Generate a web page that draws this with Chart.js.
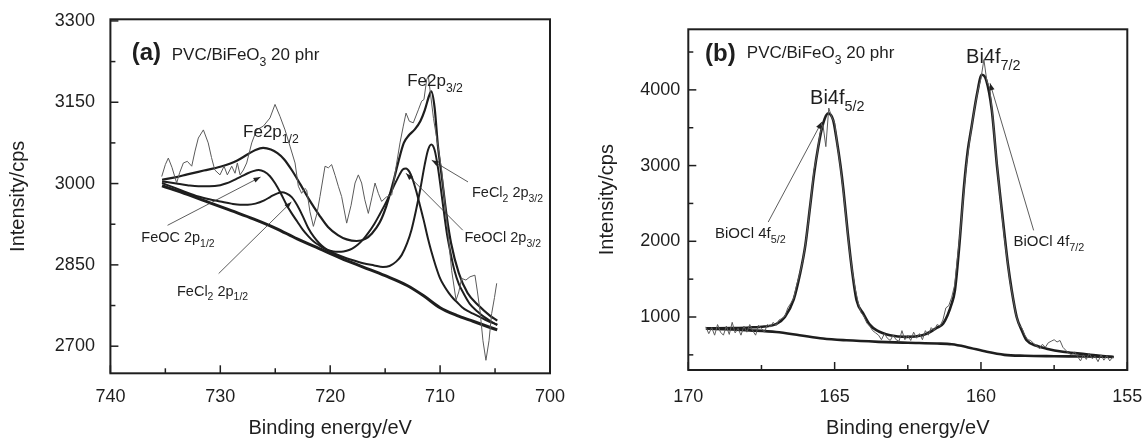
<!DOCTYPE html>
<html>
<head>
<meta charset="utf-8">
<script src="https://cdn.jsdelivr.net/npm/chart.js@4.4.1/dist/chart.umd.min.js"></script>
<style>
  body { margin: 0; background: #fff; }
  #wrap { position: relative; width: 1142px; height: 438px; }
  canvas { position: absolute; top: 0; }
  #chartA { left: 0; }
  #chartB { left: 571px; }
</style>
</head>
<body>
<div id="wrap">
  <canvas id="chartA" width="571" height="438"></canvas>
  <canvas id="chartB" width="571" height="438"></canvas>
</div>
<script>
// ---- panel (a): Fe2p ----
const rawA_E = [735.33, 735.0, 734.73, 734.4, 733.97, 733.7, 733.36, 733.0, 732.6, 732.3, 732.0, 731.54, 731.1, 730.8, 730.5, 730.03, 729.66, 729.36, 728.96, 728.66, 728.45, 728.2, 727.9, 727.6, 727.14, 726.7, 726.08, 725.48, 725.02, 724.57, 724.11, 723.66, 723.2, 722.9, 722.6, 722.3, 722.14, 721.84, 721.53, 721.2, 720.93, 720.47, 720.17, 719.87, 719.55, 719.26, 718.96, 718.5, 718.1, 717.74, 717.44, 717.14, 716.85, 716.53, 716.2, 715.92, 715.62, 715.32, 714.9, 714.4, 713.95, 713.65, 713.35, 713.1, 712.8, 712.44, 711.98, 711.68, 711.47, 711.22, 711.07, 710.92, 710.6, 710.2, 709.86, 709.56, 709.25, 708.95, 708.55, 708.3, 708.04, 707.65, 707.28, 706.83, 706.6, 706.37, 706.1, 705.83, 705.55, 705.31, 705.05, 704.85];
const rawA_I = [3013, 3035, 3047, 3030, 3001, 3020, 3038, 3041, 3032, 3060, 3084, 3099, 3075, 3048, 3025, 3016, 3032, 3016, 3032, 3019, 3038, 3016, 3025, 3038, 3075, 3099, 3106, 3121, 3146, 3124, 3099, 3069, 3038, 2995, 2982, 2991, 2988, 2948, 2921, 2945, 2976, 3032, 3029, 3035, 3015, 2995, 2976, 2927, 2960, 3001, 3016, 3001, 2970, 2945, 2975, 3001, 2982, 2967, 2975, 2979, 3038, 3075, 3106, 3130, 3115, 3112, 3136, 3152, 3155, 3192, 3198, 3173, 3120, 3070, 3025, 2964, 2902, 2840, 2785, 2800, 2825, 2822, 2828, 2831, 2800, 2766, 2710, 2674, 2710, 2760, 2790, 2816];

const envA_E = [735.3, 734, 733, 731.5, 730, 728.5, 727.5, 726.8, 726.1, 725.4, 724.8, 724.2, 723.5, 722.7, 721.9, 721, 720.2, 719.3, 718.5, 717.6, 716.8, 716.2, 715.5, 714.9, 714.3, 713.8, 713.3, 712.8, 712.3, 711.8, 711.4, 711.0, 710.8, 710.5, 710.2, 709.8, 709.4, 709.0, 708.3, 707.5, 706.5, 705.5, 704.8];
const envA_I = [3007, 3012, 3017, 3024, 3031, 3042, 3054, 3062, 3066, 3063, 3056, 3045, 3025, 2998, 2970, 2942, 2920, 2905, 2897, 2894, 2898, 2908, 2928, 2958, 3000, 3040, 3075, 3090, 3100, 3115, 3135, 3162, 3170, 3140, 3070, 3005, 2940, 2890, 2835, 2798, 2775, 2757, 2747];

// FeOC 2p1/2 + FeOCl 2p3/2 component
const feoclE = [735.3, 734, 733, 732, 731, 730, 729.5, 729, 728.5, 728, 727.5, 727, 726.5, 726, 725.5, 725, 724.5, 724, 723.5, 723, 722.5, 722, 721.5, 721, 720.5, 720, 719.5, 719, 718.5, 718, 717.5, 717, 716.5, 716, 715.5, 715, 714.5, 714, 713.7, 713.4, 713.1, 712.8, 712.5, 712.2, 711.9, 711.5, 711.1, 710.8, 710.4, 710, 709.6, 709.2, 708.8, 708.5, 708, 707.5, 707, 706.4, 706, 705.5, 704.8];
const feoclI = [3004, 3000, 2997, 2995, 2995, 2997, 3000, 3004, 3009, 3014, 3019, 3023, 3025, 3022, 3014, 3000, 2982, 2962, 2945, 2930, 2915, 2903, 2893, 2886, 2880, 2876, 2874, 2874, 2876, 2880, 2887, 2897, 2910, 2925, 2943, 2962, 2983, 3004, 3016, 3026, 3028, 3022, 3008, 2988, 2965, 2933, 2898, 2875, 2848, 2825, 2810, 2798, 2788, 2782, 2772, 2765, 2760, 2754, 2750, 2745, 2740];

// FeCl2 2p1/2 + 2p3/2 component
const fecl2E = [735.3, 734, 733, 732, 731, 730, 729, 728.2, 727.5, 726.8, 726, 725.4, 724.8, 724.4, 724, 723.5, 723, 722.5, 722, 721.5, 721, 720.5, 720, 719, 718, 717, 716, 715.2, 714.6, 714, 713.5, 713, 712.6, 712.2, 711.8, 711.4, 711.1, 710.8, 710.5, 710.2, 709.8, 709.4, 709.1, 708.7, 708.3, 707.8, 707.3, 706.6, 706, 705.4, 704.8];
const fecl2I = [3001, 2991, 2983, 2976, 2971, 2967, 2963, 2961, 2961, 2963, 2969, 2976, 2982, 2984, 2982, 2975, 2960, 2940, 2918, 2902, 2890, 2881, 2875, 2866, 2859, 2853, 2849, 2846, 2848, 2856, 2868, 2890, 2915, 2950, 2990, 3035, 3062, 3072, 3062, 3030, 2970, 2910, 2877, 2840, 2815, 2795, 2778, 2764, 2754, 2746, 2739];

const bgA_E = [735.3, 733, 731, 729, 727, 725, 723, 721, 719, 717, 715, 713, 711.5, 710, 708.5, 707, 705.5, 704.8];
const bgA_I = [2996, 2980, 2965, 2950, 2935, 2918, 2898, 2880, 2862, 2846, 2830, 2812, 2793, 2771, 2757, 2746, 2735, 2730];

const xTicksA = [740, 730, 720, 710, 700];
const xMinorA = [735, 725, 715, 705];
const yTicksA = [2700, 2850, 3000, 3150, 3300];
const yMinorA = [2775, 2925, 3075, 3225];

// ---- panel (b): Bi4f ----
const rawB_E = [169.4, 169.3, 169.2, 169.1, 169.0, 168.9, 168.8, 168.7, 168.6, 168.5, 168.4, 168.3, 168.2, 168.1, 168.0, 167.9, 167.8, 167.7, 167.6, 167.5, 167.4, 167.3, 167.2, 167.1, 167.0, 166.9, 166.8, 166.7, 166.6, 166.5, 166.4, 166.3, 166.2, 166.1, 166.0, 165.9, 165.8, 165.7, 165.6, 165.5, 165.4, 165.3, 165.2, 165.1, 165.0, 164.9, 164.8, 164.7, 164.6, 164.5, 164.4, 164.3, 164.2, 164.1, 164.0, 163.9, 163.8, 163.7, 163.6, 163.5, 163.4, 163.3, 163.2, 163.1, 163.0, 162.9, 162.8, 162.7, 162.6, 162.5, 162.4, 162.3, 162.2, 162.1, 162.0, 161.9, 161.8, 161.7, 161.6, 161.5, 161.4, 161.3, 161.2, 161.1, 161.0, 160.9, 160.8, 160.7, 160.6, 160.5, 160.4, 160.3, 160.2, 160.1, 160.0, 159.9, 159.8, 159.7, 159.6, 159.5, 159.4, 159.3, 159.2, 159.1, 159.0, 158.9, 158.8, 158.7, 158.6, 158.5, 158.4, 158.3, 158.2, 158.1, 158.0, 157.9, 157.8, 157.7, 157.6, 157.5, 157.4, 157.3, 157.2, 157.1, 157.0, 156.9, 156.8, 156.7, 156.6, 156.5, 156.4, 156.3, 156.2, 156.1, 156.0, 155.9, 155.8, 155.7, 155.6, 155.5];
const rawB_I = [870, 780, 860, 760, 900, 800, 760, 880, 770, 930, 790, 850, 760, 880, 800, 900, 820, 760, 890, 850, 800, 900, 870, 930, 890, 960, 980, 1010, 1120, 1180, 1250, 1420, 1560, 1720, 1950, 2250, 2600, 2950, 3150, 3420, 3540, 3250, 3760, 3640, 3560, 3250, 2980, 2650, 2280, 1900, 1620, 1380, 1200, 1060, 1010, 920, 880, 820, 790, 760, 700, 780, 720, 690, 760, 700, 680, 820, 700, 760, 690, 800, 720, 780, 700, 820, 760, 860, 820, 900, 880, 960, 1120, 1150, 1260, 1420, 1800, 2150, 2600, 3000, 3300, 3560, 3800, 4000, 4150, 4400, 4120, 4020, 3650, 3200, 2800, 2420, 2050, 1750, 1450, 1240, 1020, 900, 850, 760, 700, 690, 650, 620, 580, 640, 600, 660, 680, 700, 670, 690, 600, 560, 520, 500, 540, 480, 420, 500, 440, 520, 450, 480, 410, 500, 430, 490, 420, 470];

const envB_E = [169.4, 168.5, 167.9, 167.4, 167.0, 166.7, 166.4, 166.18, 166.0, 165.84, 165.7, 165.56, 165.39, 165.22, 165.05, 164.93, 164.8, 164.7, 164.55, 164.4, 164.25, 164.02, 163.8, 163.56, 163.11, 162.54, 162.0, 161.74, 161.5, 161.29, 161.0, 160.89, 160.75, 160.57, 160.45, 160.32, 160.13, 159.97, 159.82, 159.63, 159.45, 159.3, 159.2, 159.08, 158.95, 158.78, 158.6, 158.44, 158.1, 157.76, 157.2, 156.62, 156.0, 155.46];
const envB_I = [850, 855, 862, 875, 905, 1000, 1230, 1574, 1950, 2456, 2900, 3250, 3560, 3690, 3600, 3340, 3000, 2680, 2103, 1600, 1221, 1045, 900, 824, 760, 737, 760, 802, 860, 913, 1177, 1354, 1900, 2765, 3200, 3515, 3956, 4200, 4130, 3735, 2985, 2450, 2100, 1700, 1354, 1000, 820, 692, 620, 582, 540, 516, 490, 472];

const bgB_E = [169.4, 168.5, 167.9, 167.0, 166.2, 165.4, 164.6, 163.5, 162.5, 161.5, 161.0, 160.5, 159.8, 159.2, 158.5, 157.5, 156.5, 155.5];
const bgB_I = [848, 835, 824, 802, 760, 715, 692, 672, 660, 650, 640, 605, 540, 500, 488, 482, 478, 472];

const xTicksB = [170, 165, 160, 155];
const xMinorB = [167.5, 162.5, 157.5];
const yTicksB = [1000, 2000, 3000, 4000];
const yMinorB = [500, 1500, 2500, 3500, 4500];

const FONT = '"Liberation Sans", Arial, Helvetica, sans-serif';
const INK = '#1e1e1e';

function pts(xs, ys) {
  return xs.map((x, i) => ({ x: x, y: ys[i] }));
}

function line(data, width, color, smooth) {
  return {
    data: data,
    showLine: true,
    pointRadius: 0,
    borderWidth: width,
    borderColor: color,
    backgroundColor: color,
    cubicInterpolationMode: smooth ? 'monotone' : 'default',
    tension: 0
  };
}

// draws rich text: parts = [text, kind] with kind '', 'sub' or 'b'
function drawRich(ctx, x, y, parts, size) {
  parts.forEach(p => {
    const txt = p[0], kind = p[1] || '';
    let f = size, dy = 0, w = '';
    if (kind === 'sub') { f = size * 0.72; dy = size * 0.32; }
    if (kind === 'b') { w = 'bold '; }
    ctx.font = w + f + 'px ' + FONT;
    ctx.fillText(txt, x, y + dy);
    x += ctx.measureText(txt).width;
  });
}

function arrow(ctx, x1, y1, x2, y2) {
  ctx.beginPath();
  ctx.moveTo(x1, y1);
  ctx.lineTo(x2, y2);
  ctx.stroke();
  const ang = Math.atan2(y2 - y1, x2 - x1);
  const L = 7, W = 2.6;
  ctx.beginPath();
  ctx.moveTo(x2, y2);
  ctx.lineTo(x2 - L * Math.cos(ang) + W * Math.sin(ang), y2 - L * Math.sin(ang) - W * Math.cos(ang));
  ctx.lineTo(x2 - L * Math.cos(ang) - W * Math.sin(ang), y2 - L * Math.sin(ang) + W * Math.cos(ang));
  ctx.closePath();
  ctx.fill();
}

const framePlugin = {
  id: 'frame',
  afterDatasetsDraw(chart, args, opts) {
    const ctx = chart.ctx, a = chart.chartArea;
    const xs = chart.scales.x, ys = chart.scales.y;
    ctx.save();
    ctx.strokeStyle = INK;
    ctx.fillStyle = INK;
    ctx.lineWidth = 2;
    ctx.strokeRect(a.left, a.top, a.right - a.left, a.bottom - a.top);

    // inward tick marks
    ctx.lineWidth = 1.5;
    const tick = (x1, y1, x2, y2) => { ctx.beginPath(); ctx.moveTo(x1, y1); ctx.lineTo(x2, y2); ctx.stroke(); };
    opts.xMajor.forEach(v => { const p = xs.getPixelForValue(v); tick(p, a.bottom, p, a.bottom - 8); });
    opts.xMinor.forEach(v => { const p = xs.getPixelForValue(v); tick(p, a.bottom, p, a.bottom - 5); });
    opts.yMajor.forEach(v => { const p = ys.getPixelForValue(v); tick(a.left, p, a.left + 8, p); });
    opts.yMinor.forEach(v => { const p = ys.getPixelForValue(v); tick(a.left, p, a.left + 5, p); });

    // pointer lines
    ctx.lineWidth = 0.8;
    ctx.strokeStyle = '#333';
    ctx.fillStyle = '#222';
    opts.arrows.forEach(ar => {
      arrow(ctx, xs.getPixelForValue(ar[0]), ys.getPixelForValue(ar[1]),
        xs.getPixelForValue(ar[2]), ys.getPixelForValue(ar[3]));
    });

    // labels
    ctx.fillStyle = INK;
    ctx.textBaseline = 'alphabetic';
    ctx.textAlign = 'left';
    opts.labels.forEach(lb => {
      const px = xs.getPixelForValue(lb.e), py = ys.getPixelForValue(lb.i);
      drawRich(ctx, px, py + lb.size * 0.36, lb.parts, lb.size);
    });
    ctx.restore();
  }
};

function makeChart(id, cfg) {
  return new Chart(document.getElementById(id), {
    type: 'scatter',
    data: { datasets: cfg.datasets },
    plugins: [framePlugin],
    options: {
      responsive: false,
      animation: false,
      devicePixelRatio: 1,
      layout: { padding: cfg.padding },
      plugins: {
        legend: { display: false },
        tooltip: { enabled: false },
        frame: cfg.frame
      },
      scales: {
        x: {
          type: 'linear',
          reverse: true,
          min: cfg.xMin,
          max: cfg.xMax,
          afterBuildTicks: s => { s.ticks = cfg.frame.xMajor.map(v => ({ value: v })); },
          afterFit: s => { s.height = cfg.xHeight; s.paddingLeft = 0; s.paddingRight = 0; },
          grid: { display: false, drawTicks: false },
          border: { display: false },
          ticks: {
            autoSkip: false, maxRotation: 0, padding: cfg.xPad, color: INK,
            font: { family: FONT, size: 18 },
            callback: v => String(v)
          },
          title: {
            display: true, text: 'Binding energy/eV', color: INK,
            font: { family: FONT, size: 20, lineHeight: 1 },
            padding: { top: 0, bottom: 0 }
          }
        },
        y: {
          type: 'linear',
          min: cfg.yMin,
          max: cfg.yMax,
          afterBuildTicks: s => { s.ticks = cfg.frame.yMajor.map(v => ({ value: v })); },
          afterFit: s => { s.width = cfg.yWidth; s.paddingTop = 0; s.paddingBottom = 0; },
          grid: { display: false, drawTicks: false },
          border: { display: false },
          ticks: {
            autoSkip: false, padding: cfg.yPad, color: INK,
            font: { family: FONT, size: 18 },
            callback: v => String(v)
          },
          title: {
            display: true, text: 'Intensity/cps', color: INK,
            font: { family: FONT, size: 20 },
            padding: { top: cfg.yTitlePad, bottom: 0 }
          }
        }
      }
    }
  });
}

makeChart('chartA', {
  padding: { left: 0, top: 19.3, right: 21, bottom: 0 },
  xMin: 700, xMax: 740, yMin: 2650, yMax: 3303,
  xHeight: 64.7, yWidth: 110.4, yPad: 15.5, yTitlePad: 6, xPad: 13,
  datasets: [
    line(pts(rawA_E, rawA_I), 1, '#5a5a5a', false),
    line(pts(bgA_E, bgA_I), 3, INK, true),
    line(pts(fecl2E, fecl2I), 2, INK, true),
    line(pts(feoclE, feoclI), 2, INK, true),
    line(pts(envA_E, envA_I), 2.2, INK, true)
  ],
  frame: {
    xMajor: xTicksA, xMinor: xMinorA, yMajor: yTicksA, yMinor: yMinorA,
    arrows: [
      [734.8, 2923, 726.34, 3012],
      [730.15, 2834, 723.53, 2966],
      [707.46, 3003, 710.76, 3043],
      [707.94, 2914, 713.1, 3019]
    ],
    labels: [
      { e: 738.06, i: 3243, size: 24, parts: [['(a)', 'b']] },
      { e: 734.42, i: 3239, size: 17, parts: [['PVC/BiFeO'], ['3', 'sub'], [' 20 phr']] },
      { e: 727.93, i: 3097, size: 17, parts: [['Fe2p'], ['1/2', 'sub']] },
      { e: 713.0, i: 3191, size: 17, parts: [['Fe2p'], ['3/2', 'sub']] },
      { e: 737.19, i: 2901, size: 14.5, parts: [['FeOC 2p'], ['1/2', 'sub']] },
      { e: 733.94, i: 2803, size: 14.5, parts: [['FeCl'], ['2', 'sub'], [' 2p'], ['1/2', 'sub']] },
      { e: 707.1, i: 2984, size: 14.5, parts: [['FeCl'], ['2', 'sub'], [' 2p'], ['3/2', 'sub']] },
      { e: 707.79, i: 2901, size: 14.5, parts: [['FeOCl 2p'], ['3/2', 'sub']] }
    ]
  }
});

makeChart('chartB', {
  padding: { left: 0, top: 29.3, right: 14.7, bottom: 0 },
  xMin: 155, xMax: 170, yMin: 300, yMax: 4800,
  xHeight: 68, yWidth: 117.3, yPad: 8, yTitlePad: 24, xPad: 16,
  datasets: [
    line(pts(rawB_E, rawB_I), 1, '#5a5a5a', false),
    line(pts(bgB_E, bgB_I), 2.6, INK, true),
    line(pts(envB_E, envB_I), 2.6, INK, true)
  ],
  frame: {
    xMajor: xTicksB, xMinor: xMinorB, yMajor: yTicksB, yMinor: yMinorB,
    arrows: [
      [167.27, 2254, 165.44, 3577],
      [158.2, 2144, 159.69, 4086]
    ],
    labels: [
      { e: 169.43, i: 4500, size: 24, parts: [['(b)', 'b']] },
      { e: 168.0, i: 4500, size: 17, parts: [['PVC/BiFeO'], ['3', 'sub'], [' 20 phr']] },
      { e: 165.84, i: 3903, size: 20, parts: [['Bi4f'], ['5/2', 'sub']] },
      { e: 160.51, i: 4447, size: 20, parts: [['Bi4f'], ['7/2', 'sub']] },
      { e: 169.09, i: 2118, size: 15, parts: [['BiOCl 4f'], ['5/2', 'sub']] },
      { e: 158.89, i: 2012, size: 15, parts: [['BiOCl 4f'], ['7/2', 'sub']] }
    ]
  }
});
</script>
</body>
</html>
